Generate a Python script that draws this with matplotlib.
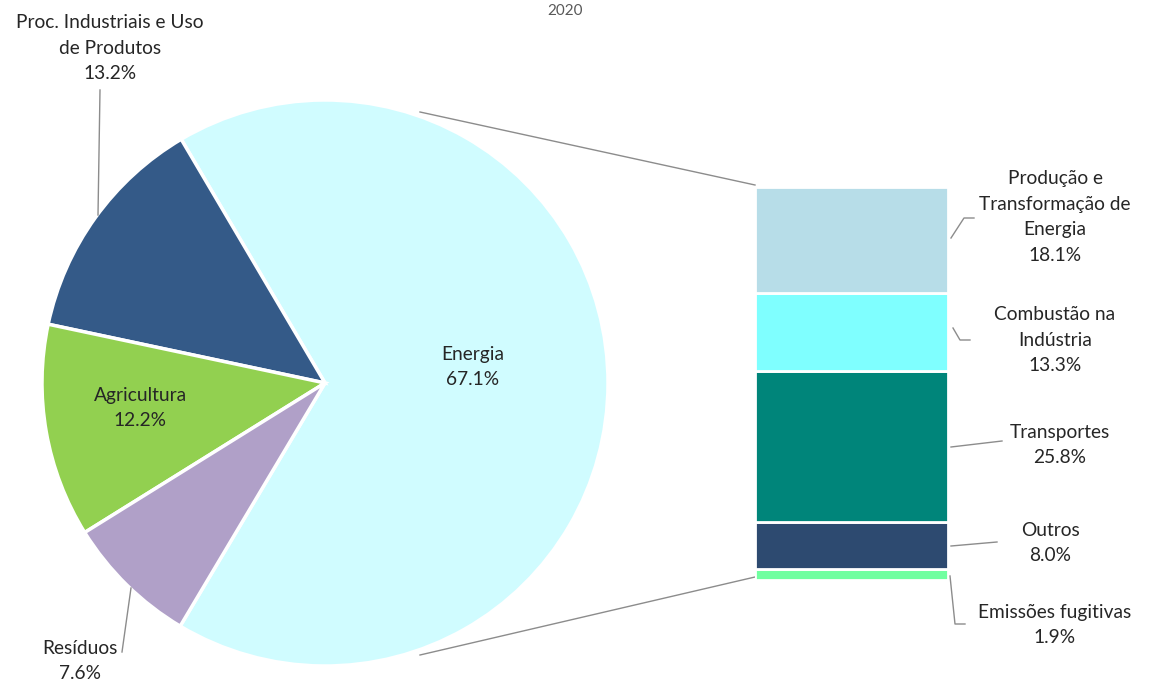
import matplotlib.pyplot as plt

plt.rcParams['font.family'] = ['Lato', 'DejaVu Sans']

# pie data
pie_labels = ['Energia', 'Proc. Industriais e Uso\nde Produtos', 'Agricultura', 'Resíduos']
pie_values = [67.1, 13.2, 12.2, 7.6]
pie_colors = ['#d0fcff', '#345a88', '#92d050', '#b0a0c8']

# bar (breakdown of Energia), top to bottom
bar_labels = ['Produção e\nTransformação de\nEnergia', 'Combustão na\nIndústria', 'Transportes',
              'Outros', 'Emissões fugitivas']
bar_values = [18.1, 13.3, 25.8, 8.0, 1.9]
bar_colors = ['#b7dde8', '#7fffff', '#00857a', '#2d4a70', '#70ffa0']

W, H = 1154, 684
fig = plt.figure(figsize=(W / 100, H / 100), dpi=100)
ax = fig.add_axes([0, 0, 1, 1])

txt = '#262626'
fs = 13.8
ls = 1.6
line_c = '#8c8c8c'

# pie
cx, cy, r = 325, H - 383, 283
ax.pie(pie_values, colors=pie_colors, startangle=-pie_values[0] * 3.6 / 2,
       counterclock=True, center=(cx, cy), radius=r,
       wedgeprops=dict(edgecolor='white', linewidth=2.5), frame=True)
ax.set_xlim(0, W)
ax.set_ylim(0, H)
ax.set_aspect('equal')
ax.axis('off')

def P(x, y):
    return x, H - y

# pie labels
pie_text_pos = [(473, 367), (110, 48), (140, 408), (80, 661)]
for (x, y), lab, v in zip(pie_text_pos, pie_labels, pie_values):
    ax.text(*P(x, y), f'{lab}\n{v:.1f}%', ha='center', va='center',
            fontsize=fs, color=txt, linespacing=ls)
ax.plot(*zip(P(100, 90), P(98, 215)), color=line_c, lw=1)
ax.plot(*zip(P(122, 652), P(131, 588)), color=line_c, lw=1)

# bar of pie
bx0, bx1, by0, by1 = 755, 948, 580, 187
bax = fig.add_axes([bx0 / W, (H - by0) / H, (bx1 - bx0) / W, (by0 - by1) / H])
bottom = 0
for v, c in zip(bar_values[::-1], bar_colors[::-1]):
    bax.bar(0, v, bottom=bottom, width=1, color=c, edgecolor='white', linewidth=2)
    bottom += v
bax.set_xlim(-0.5, 0.5)
bax.set_ylim(0, sum(bar_values))
bax.axis('off')

# connector lines pie -> bar
for yp, yb in [(112, 185), (655, 577)]:
    ax.plot(*zip(P(420, yp), P(bx0, yb)), color=line_c, lw=1)

# bar labels
bar_text_pos = [(1055, 217), (1055, 340), (1060, 445), (1050, 543), (1055, 625)]
for (x, y), lab, v in zip(bar_text_pos, bar_labels, bar_values):
    ax.text(*P(x, y), f'{lab}\n{v:.1f}%', ha='center', va='center',
            fontsize=fs, color=txt, linespacing=ls)

leaders = [
    [(951, 238), (964, 218), (974, 218)],
    [(953, 328), (960, 340), (970, 340)],
    [(951, 447), (1002, 441)],
    [(951, 546), (997, 542)],
    [(950, 576), (955, 624), (965, 624)],
]
for pts in leaders:
    xs, ys = zip(*[P(x, y) for x, y in pts])
    ax.plot(xs, ys, color=line_c, lw=1)

# title (mostly outside the original crop)
fig.text(565 / W, (H - 18) / H, '2020', ha='center', va='bottom', fontsize=11, color='#595959')

fig.savefig('out.png', dpi=100)
